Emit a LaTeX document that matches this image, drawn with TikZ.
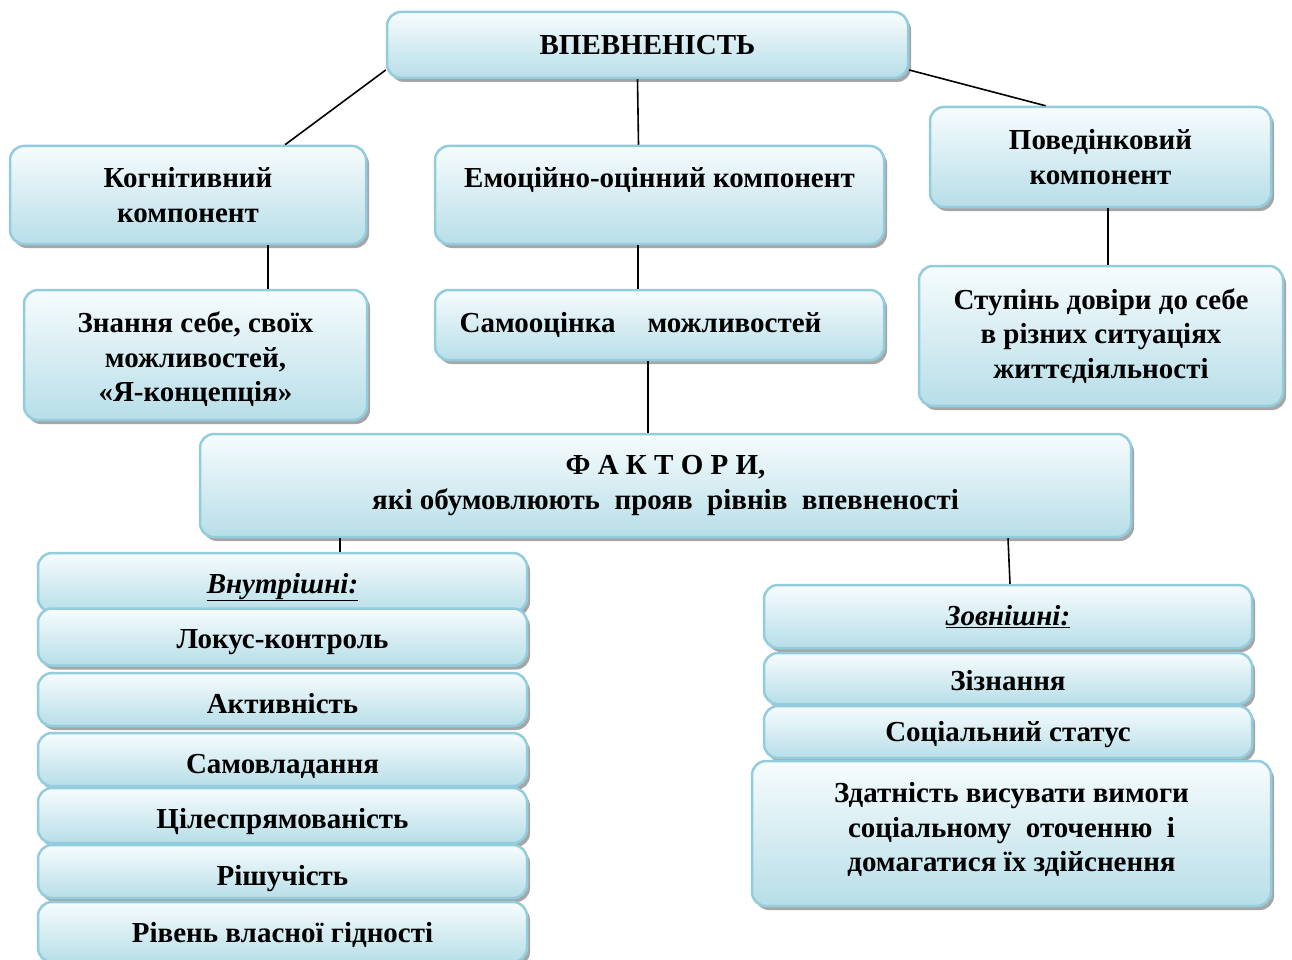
\documentclass[tikz,border=0pt]{standalone}
\usepackage{fontspec}
\setmainfont{Liberation Serif}
\usetikzlibrary{shadows}

\definecolor{panelborder}{HTML}{93CDDD}
\definecolor{paneltop}{HTML}{F7FCFD}
\definecolor{panelbottom}{HTML}{B7DEE8}

\tikzset{
	panel/.style={draw=panelborder, line width=2.5pt, rounded corners=14pt,
		top color=paneltop, bottom color=panelbottom,
		drop shadow={shadow xshift=3pt, shadow yshift=-4pt, fill=black!35, opacity=1},
		align=center, inner sep=0pt, font=\fontsize{29}{34.5}\selectfont\bfseries},
	% baseline fixed below the top edge
	rowitem/.style={text height=40pt, text depth=#1},
	link/.style={line width=1.6pt}
}

\begin{document}
\begin{tikzpicture}[x=1pt,y=-1pt]
		\useasboundingbox[fill=white] (0,0) rectangle (1292,960);
		
		% upper level
		\node[panel, minimum width=521pt, minimum height=66pt] (top) at (647.5,45) {ВПЕВНЕНІСТЬ};
		\node[panel, minimum width=356pt, minimum height=98pt] (kog) at (188,195) {Когнітивний\\компонент};
		\node[panel, minimum width=449pt, minimum height=98pt] (emo) at (659.5,195) {Емоційно-оцінний компонент\\\mbox{}};
		\node[panel, minimum width=341pt, minimum height=100pt] (pov) at (1100.5,157) {Поведінковий\\компонент};
		
		\node[panel, rowitem=18.5pt, text height=111.5pt, minimum width=343pt, minimum height=130pt] (znan) at (195.5,355) {Знання себе, своїх\\можливостей,\\«Я-концепція»};
		\node[panel, minimum width=449pt, minimum height=70pt] (samo) at (659.5,325) {Самооцінка\hspace{1.1em}можливостей\hspace*{38pt}};
		\node[panel, minimum width=364pt, minimum height=140pt] (stup) at (1101,336) {Ступінь довіри до себе\\в різних ситуаціях\\життєдіяльності};
		
		\node[panel, minimum width=931pt, minimum height=103pt] (fakt) at (665.5,485.5) {Ф А К Т О Р И,\\які обумовлюють\ \ прояв\ \ рівнів\ \ впевненості};
		
		% internal factors
		\node[panel, rowitem=19pt, minimum width=489pt, minimum height=59pt] (vnut) at (282.5,582.5) {\itshape\underline{Внутрішні:}};
		\node[panel, rowitem=17pt, minimum width=489pt, minimum height=57pt] (lokus) at (282.5,637) {Локус-контроль};
		\node[panel, rowitem=13pt, minimum width=489pt, minimum height=53pt] (aktiv) at (282.5,699.5) {Активність};
		\node[panel, rowitem=13pt, minimum width=489pt, minimum height=53pt] (samovl) at (282.5,759.5) {Самовладання};
		\node[panel, rowitem=15pt, minimum width=489pt, minimum height=55pt] (cil) at (282.5,815.5) {Цілеспрямованість};
		\node[panel, rowitem=13pt, minimum width=489pt, minimum height=53pt] (rish) at (282.5,871.5) {Рішучість};
		\node[panel, rowitem=20pt, minimum width=489pt, minimum height=60pt] (riv) at (282.5,932) {Рівень власної гідності};
		
		% external factors
		\node[panel, minimum width=488pt, minimum height=63pt] (zovn) at (1008,616.5) {\itshape\underline{Зовнішні:}};
		\node[panel, rowitem=14pt, text height=37pt, minimum width=488pt, minimum height=51pt] (ziz) at (1008,678.5) {Зізнання};
		\node[panel, rowitem=17pt, text height=35pt, minimum width=488pt, minimum height=52pt] (soc) at (1008,732) {Соціальний статус};
		\node[panel, rowitem=34.5pt, text height=110.5pt, minimum width=519pt, minimum height=145pt] (zdat) at (1011.5,833.5) {Здатність висувати вимоги\\соціальному\ \ оточенню\ \ і\\домагатися їх здійснення};
		
		\draw[link] ([yshift=-25pt]top.west) -- ([xshift=97pt]kog.north);
		\draw[link] ([xshift=-10pt]top.south) -- ([xshift=-21pt]emo.north);
		\draw[link] ([yshift=-25pt]top.east) -- ([xshift=-55pt]pov.north);
		\draw[link] ([xshift=80pt]kog.south) -- ([xshift=72.5pt]znan.north);
		\draw[link] ([xshift=-21.5pt]emo.south) -- ([xshift=-21.5pt]samo.north);
		\draw[link] ([xshift=7.5pt]pov.south) -- ([xshift=7pt]stup.north);
		\draw[link] ([xshift=-11.5pt]samo.south) -- ([xshift=-17.5pt]fakt.north);
		\draw[link] ([xshift=-325.5pt]fakt.south) -- ([xshift=57.5pt]vnut.north);
		\draw[link] ([xshift=342.5pt]fakt.south) -- ([xshift=2pt]zovn.north);
\end{tikzpicture}
\end{document}
